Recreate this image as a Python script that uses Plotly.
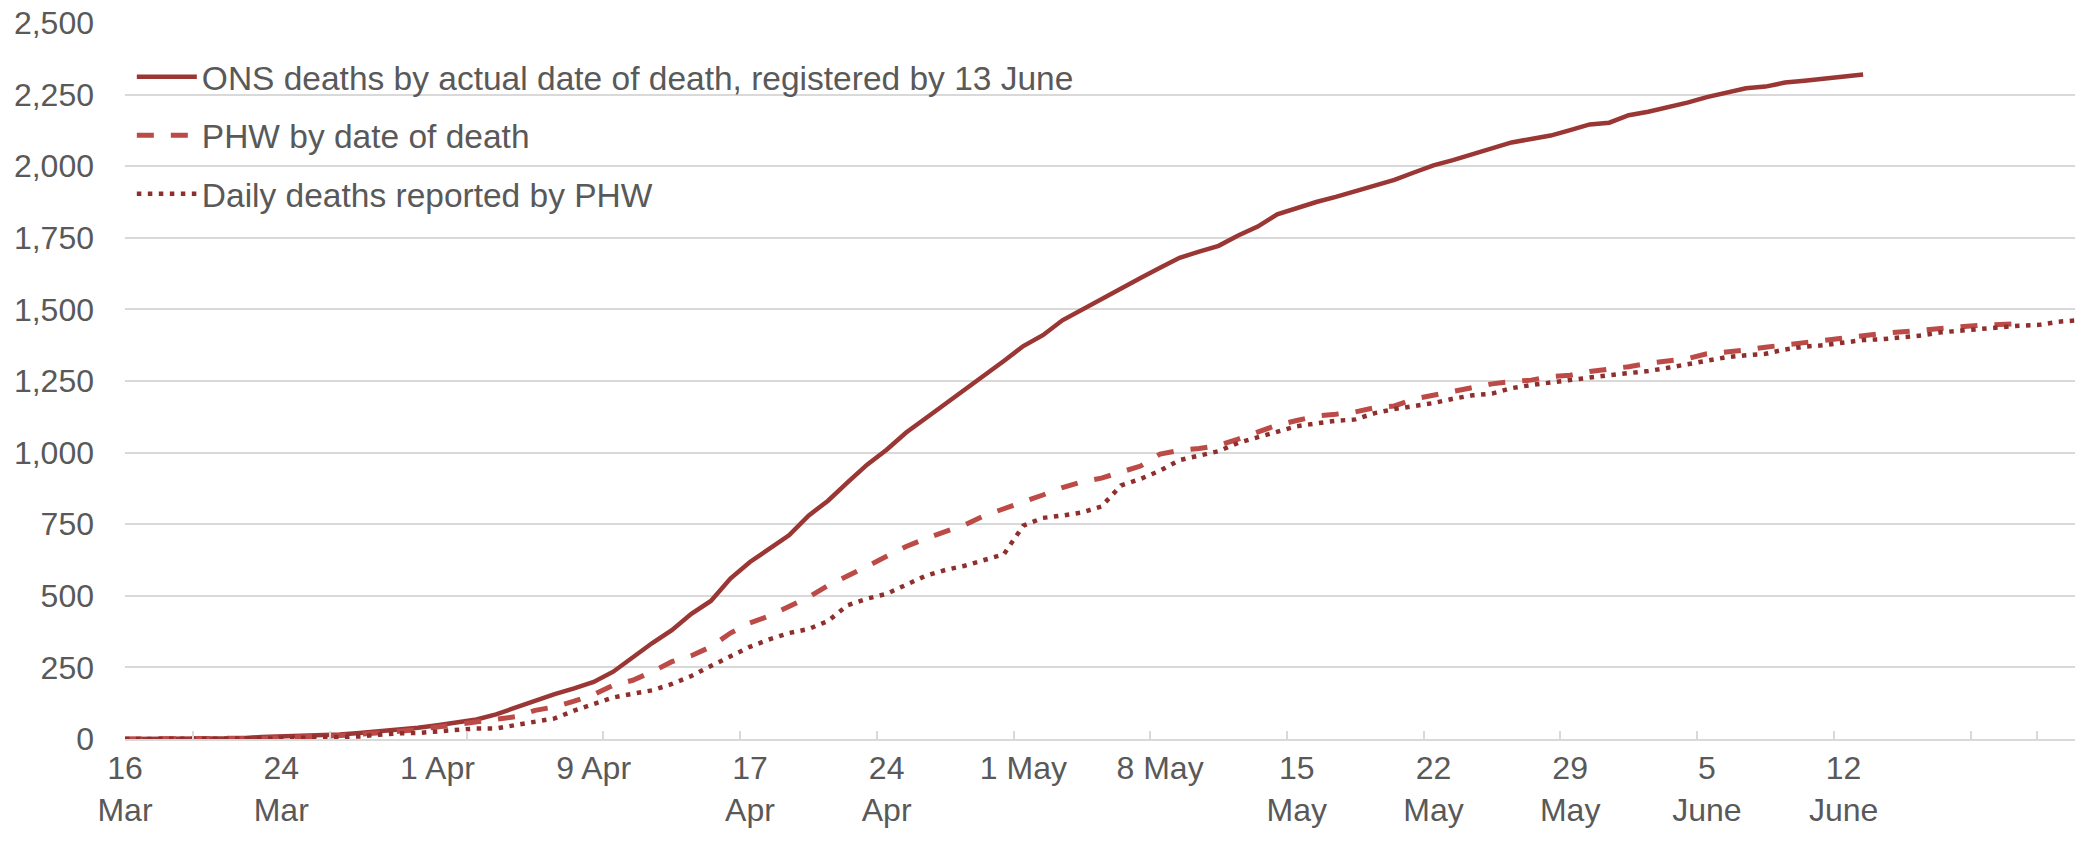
import pandas as pd
import plotly.graph_objects as go

# ---- data (cumulative deaths, one value per day from 16 March 2020) ----
start_date = "2020-03-16"

ons_deaths = [0, 0, 0, 1, 1, 2, 3, 7, 9, 10, 11, 16, 21, 26, 32, 39, 48, 60, 68, 86,
              110, 130, 157, 177, 199, 235, 285, 335, 380, 437, 482, 560, 618, 664, 711, 780, 832, 896, 958, 1010,
              1070, 1120, 1170, 1216, 1268, 1320, 1372, 1410, 1462, 1500, 1535, 1572, 1610, 1645, 1680, 1702, 1722, 1758, 1789, 1832,
              1855, 1875, 1893, 1913, 1933, 1952, 1978, 2003, 2021, 2043, 2063, 2083, 2095, 2107, 2126, 2146, 2152, 2178, 2190, 2204,
              2222, 2241, 2255, 2272, 2278, 2292, 2298, 2306, 2314, 2320]

phw_by_date = [0, 0, 0, 0, 0, 1, 1, 3, 5, 6, 8, 12, 16, 20, 27, 33, 42, 52, 60, 68,
               78, 100, 112, 132, 155, 188, 205, 235, 270, 291, 322, 370, 405, 430, 462, 495, 536, 568, 603, 638,
               672, 700, 723, 748, 780, 803, 827, 852, 878, 898, 911, 933, 953, 995, 1008, 1014, 1025, 1047, 1070, 1096,
               1112, 1128, 1134, 1142, 1157, 1163, 1187, 1200, 1215, 1230, 1240, 1248, 1253, 1265, 1270, 1283, 1290, 1300, 1312, 1322,
               1328, 1345, 1351, 1358, 1368, 1378, 1384, 1392, 1402, 1408, 1416, 1422, 1428, 1435, 1440, 1445, 1447, 1450]

phw_daily = [0, 0, 0, 0, 0, 0, 1, 1, 2, 4, 6, 8, 9, 15, 20, 21, 27, 33, 37, 37,
             50, 60, 72, 99, 121, 145, 158, 170, 192, 220, 255, 287, 322, 348, 370, 384, 412, 467, 490, 507,
             538, 570, 590, 605, 625, 645, 745, 772, 780, 791, 812, 885, 908, 937, 974, 988, 1005, 1034, 1053, 1074,
             1092, 1102, 1111, 1116, 1138, 1152, 1161, 1173, 1188, 1200, 1206, 1225, 1236, 1246, 1253, 1262, 1270, 1276, 1285, 1296,
             1309, 1320, 1333, 1340, 1345, 1360, 1370, 1375, 1384, 1393, 1396, 1401, 1409, 1420, 1426, 1431, 1438, 1443, 1446, 1457,
             1462]

series_names = ["ONS deaths by actual date of death, registered by 13 June",
                "PHW by date of death",
                "Daily deaths reported by PHW"]

label_dates = ["2020-03-16", "2020-03-24", "2020-04-01", "2020-04-09", "2020-04-17", "2020-04-24",
               "2020-05-01", "2020-05-08", "2020-05-15", "2020-05-22", "2020-05-29", "2020-06-05", "2020-06-12"]
label_text = ["16<br>Mar", "24<br>Mar", "1 Apr", "9 Apr", "17<br>Apr", "24<br>Apr",
              "1 May", "8 May", "15<br>May", "22<br>May", "29<br>May", "5<br>June", "12<br>June"]

y_ticks = [0, 250, 500, 750, 1000, 1250, 1500, 1750, 2000, 2250, 2500]

# ---- figure ----
def dates_for(values):
    return pd.date_range(start_date, periods=len(values), freq="D")

FONT = "Liberation Sans, Arial, sans-serif"
TXT = "#595959"
GRID = "#D9D9D9"

fig = go.Figure()
fig.add_trace(go.Scatter(x=dates_for(ons_deaths), y=ons_deaths, mode="lines",
                         name=series_names[0], legendgroup="a",
                         line=dict(color="#9A3634", width=4.5)))
fig.add_trace(go.Scatter(x=dates_for(phw_by_date), y=phw_by_date, mode="lines",
                         name=series_names[1], legendgroup="b",
                         line=dict(color="#BC4A47", width=5, dash="17px,17px")))
fig.add_trace(go.Scatter(x=dates_for(phw_daily), y=phw_daily, mode="lines",
                         name=series_names[2], legendgroup="c",
                         line=dict(color="#8E2F2D", width=4.5, dash="4.5px,6.5px")))

start = pd.Timestamp(start_date)
x_end = start + pd.Timedelta(days=99.85)
minor_ticks = list(pd.date_range(start + pd.Timedelta(hours=84), x_end, freq="7D")) + [start + pd.Timedelta(days=97.9)]

fig.update_layout(
    width=2075, height=843,
    margin=dict(l=125, r=0, t=23, b=104),
    paper_bgcolor="white", plot_bgcolor="white",
    font=dict(family=FONT, size=32, color=TXT),
    showlegend=True,
    legend=dict(x=0.0035, y=0.9645, xanchor="left", yanchor="top",
                bgcolor="rgba(0,0,0,0)", tracegroupgap=12, itemwidth=60,
                font=dict(family=FONT, size=33.5, color=TXT)),
    xaxis=dict(range=[start, x_end], type="date",
               tickmode="array", tickvals=label_dates, ticktext=label_text,
               ticks="", showgrid=False, zeroline=False,
               showline=True, linecolor=GRID, linewidth=2,
               tickfont=dict(family=FONT, size=32, color=TXT),
               minor=dict(tickmode="array", tickvals=minor_ticks, ticks="inside",
                          ticklen=8, tickcolor=GRID, tickwidth=2, showgrid=False)),
    yaxis=dict(range=[0, 2500], tickmode="array", tickvals=y_ticks,
               tickformat=",", showgrid=True, gridcolor=GRID, gridwidth=2,
               zeroline=False, showline=False, ticks="",
               ticklabelstandoff=30,
               tickfont=dict(family=FONT, size=32, color=TXT)),
)

fig.write_html("out.html", config={"displayModeBar": False},
               post_script="document.body.style.margin='0';")
